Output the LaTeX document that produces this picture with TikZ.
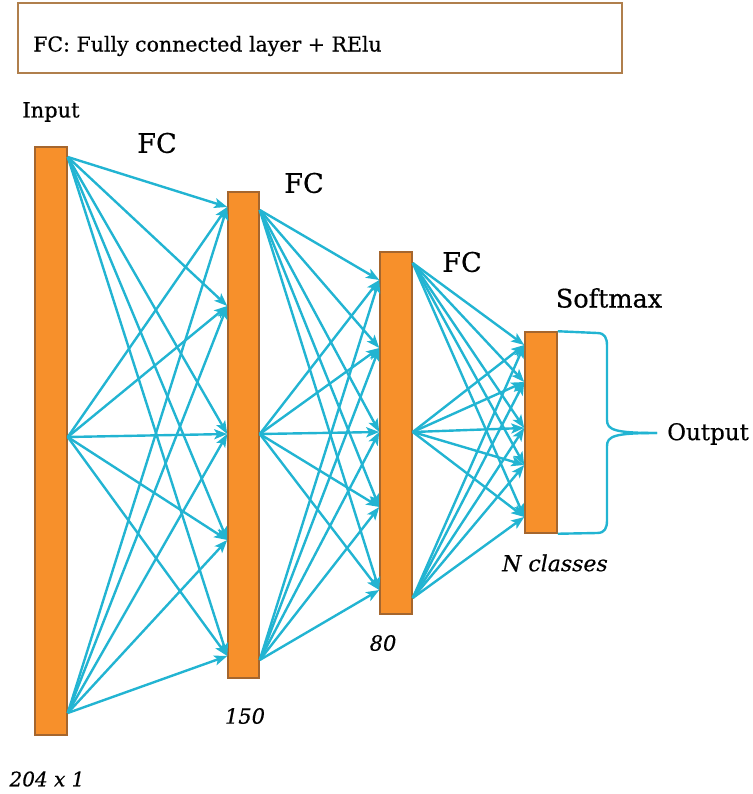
\documentclass[tikz,border=0pt]{standalone}
\usepackage{fontspec}
\setmainfont[FakeBold=0.5]{DejaVu Serif}
\usetikzlibrary{arrows.meta}
\definecolor{barfill}{HTML}{F7902B}
\definecolor{bardraw}{HTML}{A5662E}
\definecolor{wire}{HTML}{22B4D2}
\definecolor{boxdraw}{HTML}{B07F4C}
\begin{document}
\begin{tikzpicture}[x=1pt,y=-1pt,
  bar/.style={draw=bardraw, fill=barfill, line width=1.5pt, inner sep=0pt, minimum width=32pt},
  conn/.style={draw=wire, line width=2.4pt, -{Stealth[length=13pt,width=10pt,inset=3pt]}},
  bracepath/.style={draw=wire, line width=2.4pt},
  lbl/.style={inner sep=0pt, font=\fontsize{21}{23}\selectfont},
  fclbl/.style={inner sep=0pt, font=\fontsize{27}{29}\selectfont},
  ital/.style={inner sep=0pt, font=\fontsize{21}{23}\selectfont\itshape}]
\useasboundingbox (0,0) rectangle (752,794);

% legend box
\node[draw=boxdraw, line width=2.2pt, minimum width=604pt, minimum height=70pt, inner sep=0pt] (legend) at (320,38) {};
\node[lbl, anchor=west, font=\fontsize{20.5}{22}\selectfont] (legendtext) at (33,46) {FC: Fully connected layer + RElu};

% layers
\node[bar, minimum height=588pt] (b1) at (51,441) {};
\node[bar, minimum width=31pt, minimum height=486pt] (b2) at (243.5,435) {};
\node[bar, minimum height=362pt] (b3) at (396,433) {};
\node[bar, minimum height=201pt] (b4) at (541,432.5) {};

% ports
\foreach \y [count=\i] in {157,437,713} \coordinate (o1\i) at (b1.east |- 0,\y);
\foreach \y [count=\i] in {207,306,434,540,656} \coordinate (i2\i) at (b2.west |- 0,\y);
\foreach \y [count=\i] in {210,434,660} \coordinate (o2\i) at (b2.east |- 0,\y);
\foreach \y [count=\i] in {280,348,432,507,590} \coordinate (i3\i) at (b3.west |- 0,\y);
\foreach \y [count=\i] in {263,432,598} \coordinate (o3\i) at (b3.east |- 0,\y);
\foreach \y [count=\i] in {345,382,428,465,517} \coordinate (i4\i) at (b4.west |- 0,\y);

% connections
\foreach \i in {1,2,3} \foreach \j in {1,...,5} \draw[conn] (o1\i) -- (i2\j);
\foreach \i in {1,2,3} \foreach \j in {1,...,5} \draw[conn] (o2\i) -- (i3\j);
\foreach \i in {1,2,3} \foreach \j in {1,...,5} \draw[conn] (o3\i) -- (i4\j);

% brace
\coordinate (btip) at (657,433);
\draw[bracepath] (b4.north east) -- (597,333) .. controls (605,333) and (607,338) .. (607,346) -- (607,420) .. controls (607,430) and (615,433) .. (btip);
\draw[bracepath] (b4.south east) -- (597,533) .. controls (605,533) and (607,528) .. (607,520) -- (607,446) .. controls (607,436) and (615,433) .. (btip);

% labels
\node[lbl] (inlbl) at (51,112) {Input};
\node[fclbl] (fc1) at (157,143) {FC};
\node[fclbl] (fc2) at (304,183) {FC};
\node[fclbl] (fc3) at (462,262) {FC};
\node[lbl, font=\fontsize{25.5}{27}\selectfont] (smx) at (609,298) {Softmax};
\node[lbl, anchor=west, font=\fontsize{23}{25}\selectfont] (outlbl) at (667,434) {Output};
\node[ital, font=\fontsize{22}{24}\selectfont\itshape] (ncls) at (555,563) {N classes};
\node[ital] (n80) at (383,643) {80};
\node[ital] (n150) at (245,716) {150};
\node[ital, font=\fontsize{20}{22}\selectfont\itshape] (n204) at (47,779) {204 x 1};
\end{tikzpicture}
\end{document}
